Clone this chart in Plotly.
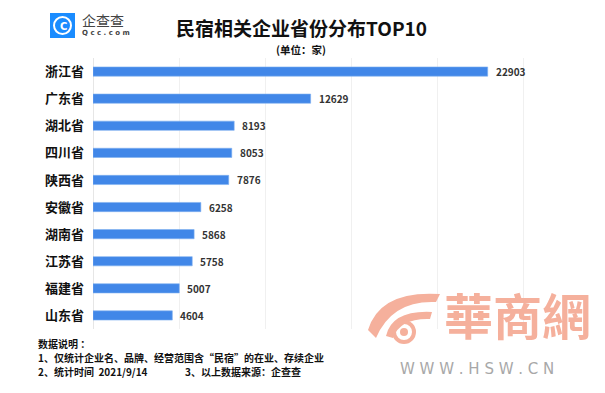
import plotly.graph_objects as go

provinces = ["浙江省", "广东省", "湖北省", "四川省", "陕西省", "安徽省", "湖南省", "江苏省", "福建省", "山东省"]
counts = [22903, 12629, 8193, 8053, 7876, 6258, 5868, 5758, 5007, 4604]

title_text = "民宿相关企业省份分布TOP10"
unit_text = "(单位：家)"
notes = ["数据说明 ：",
         "1、仅统计企业名、品牌、经营范围含“民宿”的在业、存续企业",
         "2、统计时间  2021/9/14",
         "3、以上数据来源：企查查"]

FONT = "Noto Sans CJK SC"
BAR = "#4187E8"
SALMON = "#F5B09C"

# page offset (body margin) compensation
OFF = 8
W, H = 605 - OFF, 393 - OFF
L, R, T, B = 93 - OFF, 76, 58 - OFF, 64
pw, ph = W - L - R, H - T - B


def px(x):
    return (x - OFF - L) / pw


def py(y):
    return (H - B - (y - OFF)) / ph


fig = go.Figure()
fig.add_trace(go.Bar(
    y=provinces, x=counts, orientation="h",
    marker=dict(color=BAR, line=dict(color="#7FB0F0", width=0.6)),
    width=0.34, hoverinfo="skip",
))

for p, v in zip(provinces, counts):
    fig.add_annotation(x=v, y=p, text=str(v), showarrow=False, xanchor="left",
                       xshift=6, font=dict(family=FONT, size=10, color="#333333", weight="bold"))

annos = []
annos.append(dict(x=px(301), y=py(28), text=title_text,
                  font=dict(family=FONT, size=19, color="#111111", weight="bold")))
annos.append(dict(x=px(301), y=py(49.5), text=unit_text,
                  font=dict(family=FONT, size=10.5, color="#111111", weight="bold")))
# logo texts
annos.append(dict(x=px(80), y=py(20), text="企查查", xanchor="left",
                  font=dict(family=FONT, size=14, color="#444444")))
annos.append(dict(x=px(80), y=py(33), text="Q c c . c o m", xanchor="left",
                  font=dict(family="DejaVu Sans", size=7, color="#444444", weight="bold")))
annos.append(dict(x=px(63), y=py(26), text="C", xanchor="center",
                  font=dict(family="DejaVu Sans", size=10, color="white", weight="bold")))
# notes
annos.append(dict(x=px(36), y=py(343), text=notes[0], xanchor="left",
                  font=dict(family=FONT, size=10, color="#111111", weight="bold")))
annos.append(dict(x=px(36), y=py(357), text=notes[1], xanchor="left",
                  font=dict(family=FONT, size=10, color="#111111", weight="bold")))
annos.append(dict(x=px(36), y=py(371), text=notes[2], xanchor="left",
                  font=dict(family=FONT, size=10, color="#111111", weight="bold")))
annos.append(dict(x=px(183), y=py(371), text=notes[3], xanchor="left",
                  font=dict(family=FONT, size=10, color="#111111", weight="bold")))
# watermark
annos.append(dict(x=px(517), y=py(313), text="華商網", xanchor="center",
                  font=dict(family="Noto Sans CJK TC", size=49, color=SALMON, weight="bold")))
annos.append(dict(x=px(477), y=py(369), text="W W W . H S W . C N", xanchor="center",
                  font=dict(family="DejaVu Sans", size=15, color="#A8A8A8")))

for a in annos:
    fig.add_annotation(xref="paper", yref="paper", showarrow=False, yanchor="middle", **a)

shapes = [
    # logo square
    dict(type="rect", xref="paper", yref="paper", x0=px(50), x1=px(75), y0=py(38), y1=py(13),
         fillcolor="#1A8CFF", line=dict(width=0), layer="above"),
    dict(type="circle", xref="paper", yref="paper", x0=px(54), x1=px(71), y0=py(34), y1=py(17),
         fillcolor="rgba(0,0,0,0)", line=dict(color="white", width=2), layer="above"),
    # watermark eye
    dict(type="path", xref="paper", yref="paper",
         path=f"M {px(368)},{py(330)} Q {px(380)},{py(290)} {px(440)},{py(294)} L {px(436)},{py(302)} "
              f"Q {px(392)},{py(300)} {px(376)},{py(338)} Z",
         fillcolor=SALMON, line=dict(width=0), layer="above"),
    dict(type="path", xref="paper", yref="paper",
         path=f"M {px(386)},{py(336)} Q {px(392)},{py(310)} {px(432)},{py(312)} L {px(430)},{py(319)} "
              f"Q {px(400)},{py(318)} {px(393)},{py(338)} Z",
         fillcolor=SALMON, line=dict(width=0), layer="above"),
    dict(type="circle", xref="paper", yref="paper", x0=px(394), x1=px(414), y0=py(342), y1=py(322),
         fillcolor="rgba(0,0,0,0)", line=dict(color=SALMON, width=4), layer="above"),
    dict(type="circle", xref="paper", yref="paper", x0=px(400), x1=px(408), y0=py(336), y1=py(328),
         fillcolor=SALMON, line=dict(width=0), layer="above"),
]

fig.update_layout(
    width=W, height=H,
    margin=dict(l=L, r=R, t=T, b=B, pad=0),
    paper_bgcolor="white", plot_bgcolor="white",
    showlegend=False,
    shapes=shapes,
    xaxis=dict(range=[0, 25300], dtick=5000, showticklabels=False, showgrid=True,
               gridcolor="#F0F0F0", gridwidth=1, zeroline=True, zerolinecolor="#E6E6E6",
               zerolinewidth=1, showline=False, fixedrange=True),
    yaxis=dict(categoryorder="array", categoryarray=provinces[::-1], autorange=False,
               range=[-0.5, 9.5], showgrid=False, zeroline=False, showline=False,
               ticks="", ticklabelstandoff=8,
               tickfont=dict(family=FONT, size=13, color="#111111", weight="bold"),
               fixedrange=True),
)

fig.write_html("out.html")
